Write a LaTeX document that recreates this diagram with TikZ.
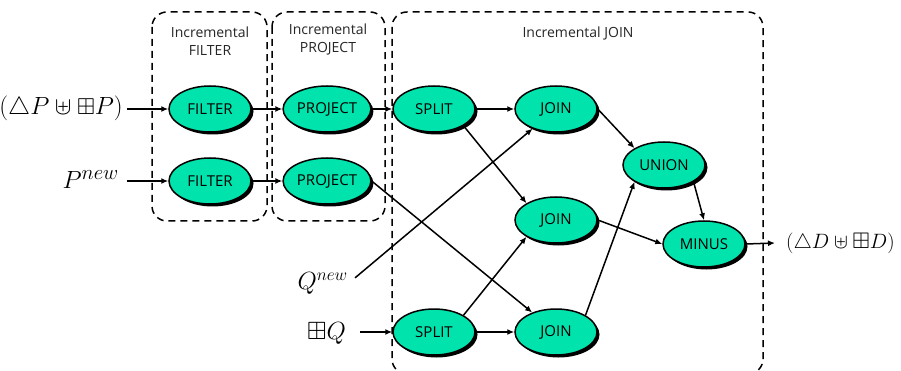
\documentclass[tikz,border=0pt]{standalone}
\usepackage{amsmath,amssymb}
\usepackage{fontspec}
\setsansfont{Open Sans}
\usepackage{tikz}
\usetikzlibrary{shapes.geometric,shadows,arrows.meta}
\definecolor{opgreen}{RGB}{0,227,172}

\begin{document}
\begin{tikzpicture}[x=1pt,y=-1pt,
   op/.style={ellipse,draw,line width=1.5pt,fill=opgreen,minimum width=82pt,minimum height=46pt,inner sep=1pt,
     drop shadow={shadow xshift=2.5pt,shadow yshift=-2.5pt,fill=black,opacity=1},
     font=\sffamily\fontsize{15}{18}\selectfont},
   box/.style={draw,line width=1.5pt,dash pattern=on 7pt off 5pt,rounded corners=15pt},
   boxtitle/.style={align=center,font=\sffamily\fontsize{14}{18}\selectfont,text=black!85},
   mathin/.style={inner sep=1pt,font=\fontsize{#1}{#1}\selectfont},
   flow/.style={-{Latex[length=7pt,width=6pt]},line width=1.5pt}]
   \useasboundingbox (0,0) rectangle (901,371);

   %虚线框
   \draw[box] (152,12) rectangle (267,221);
   \draw[box] (272,12) rectangle (385,221);
   \draw[box] (392,12) rectangle (763,374);
   \node[boxtitle] (tfilter) at (210,41) {Incremental\\FILTER};
   \node[boxtitle] (tproject) at (328,40) {Incremental\\PROJECT};
   \node[boxtitle] (tjoin) at (578,34) {Incremental JOIN};

   %算子
   \node[op] (filterA) at (210,109) {FILTER};
   \node[op] (filterB) at (210,181) {FILTER};
   \node[op] (projA) at (327,109) {PROJECT};
   \node[op] (projB) at (327,181) {PROJECT};
   \node[op] (splitA) at (434,109) {SPLIT};
   \node[op] (splitB) at (434,332) {SPLIT};
   \node[op] (joinA) at (556,109) {JOIN};
   \node[op] (joinB) at (556,220) {JOIN};
   \node[op] (joinC) at (556,332) {JOIN};
   \node[op] (union) at (664,165) {UNION};
   \node[op] (minus) at (704,244) {MINUS};

   %输入输出
   \node[mathin=23,anchor=east] (inP) at (124,108) {$(\triangle P\uplus\boxplus P)$};
   \node[mathin=31,anchor=east] (newP) at (120,180) {$P^{new}$};
   \node[mathin=24.5,anchor=east] (newQ) at (349,283) {$Q^{new}$};
   \node[mathin=25,anchor=east] (boxQ) at (347,333) {$\boxplus Q$};
   \node[mathin=22.5,anchor=west,inner xsep=11pt] (outD) at (775,243) {$(\triangle D\uplus\boxplus D)$};

   \draw[flow] (inP.east) ++(3,1) -- (filterA);
   \draw[flow] (newP.east) ++(7,1) -- (filterB);
   \draw[flow] (filterA) -- (projA);
   \draw[flow] (filterB) -- (projB);
   \draw[flow] (projA) -- (splitA);
   \draw[flow] (projB.east) -- (joinC);
   \draw[flow] (splitA) -- (joinA);
   \draw[flow] (splitA.south east) -- (joinB.north west);
   \draw[flow] (newQ.north east) ++(6,7) -- (joinA);
   \draw[flow] (boxQ.east) ++(13,-1) -- (splitB);
   \draw[flow] (splitB.north east) -- (joinB.south west);
   \draw[flow] (splitB) -- (joinC);
   \draw[flow] (joinA.east) -- (union.north west);
   \draw[flow] (joinC.north east) -- (union.south west);
   \draw[flow] (joinB.east) -- (minus.west);
   \draw[flow] (union.south east) -- (minus.north);
   \draw[flow] (minus.east) -- (outD.west);
\end{tikzpicture}
\end{document}
